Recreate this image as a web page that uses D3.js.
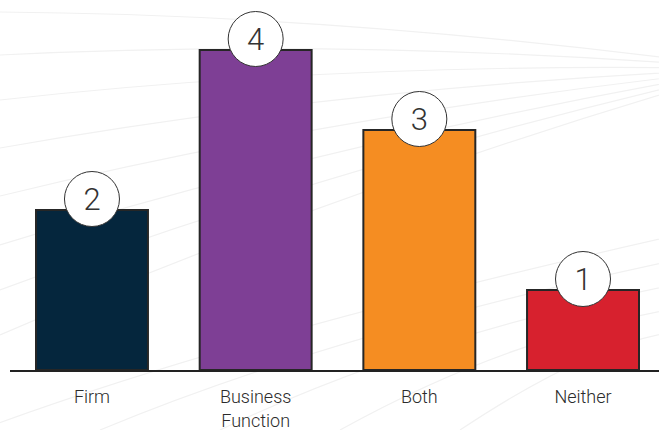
<!DOCTYPE html>
<html>
<head>
<meta charset="utf-8">
<script src="https://cdn.jsdelivr.net/npm/d3@7"></script>
<style>
  body { margin: 0; background: #fff; }
  text { font-family: Roboto, "Liberation Sans", sans-serif; }
</style>
</head>
<body>
<div id="chart"></div>
<script>
// data
var categories = ["Firm", "Business\nFunction", "Both", "Neither"];
var counts = [2, 4, 3, 1];
var barColors = ["#05263d", "#7e3f95", "#f58d22", "#d7212e"];

// chart size
var svgWidth = 659;
var svgHeight = 430;
var baseY = 370;

var svg = d3.select("#chart").append("svg")
  .attr("width", svgWidth)
  .attr("height", svgHeight);

// faint decorative curves in the background
var bg = svg.append("g").attr("fill", "none").attr("stroke", "#f1f1f1").attr("stroke-width", 1.2);
var fanEnds = [12, 55, 100, 148, 196, 245, 290, 335];
fanEnds.forEach(function(y0, i) {
  bg.append("path")
    .attr("d", "M0," + y0 + " Q330," + (y0 * 0.55 + 8) + " 700," + (62 + i * 3));
});
[0, 1, 2, 3, 4].forEach(function(i) {
  bg.append("path")
    .attr("d", "M" + (-20 + i * 120) + ",430 Q" + (250 + i * 90) + ",330 700," + (230 + i * 25));
});

var xScale = d3.scaleBand()
  .domain(categories)
  .range([36, 639])
  .paddingInner(0.316)
  .paddingOuter(0);

var yScale = d3.scaleLinear()
  .domain([0, 4])
  .range([baseY, 50]);

var chartGroup = svg.append("g");

// bars
chartGroup.selectAll("rect.bar")
  .data(counts)
  .enter()
  .append("rect")
  .attr("class", "bar")
  .attr("x", (d, i) => xScale(categories[i]))
  .attr("y", d => yScale(d))
  .attr("width", xScale.bandwidth())
  .attr("height", d => baseY - yScale(d))
  .attr("fill", (d, i) => barColors[i])
  .attr("stroke", "#262626")
  .attr("stroke-width", 2);

// baseline
svg.append("line")
  .attr("x1", 10).attr("x2", svgWidth)
  .attr("y1", baseY + 1).attr("y2", baseY + 1)
  .attr("stroke", "#222")
  .attr("stroke-width", 2);

// value bubbles
var bubbles = chartGroup.selectAll("g.bubble")
  .data(counts)
  .enter()
  .append("g")
  .attr("class", "bubble")
  .attr("transform", (d, i) => `translate(${xScale(categories[i]) + xScale.bandwidth() / 2}, ${yScale(d) - 11})`);

bubbles.append("circle")
  .attr("r", 27.5)
  .attr("fill", "#fff")
  .attr("stroke", "#333")
  .attr("stroke-width", 1);

bubbles.append("text")
  .text(d => d)
  .attr("text-anchor", "middle")
  .attr("dy", "0.36em")
  .style("font-size", "31px")
  .style("font-weight", 300)
  .attr("fill", "#333");

// category labels
var labels = svg.selectAll("text.cat")
  .data(categories)
  .enter()
  .append("text")
  .attr("class", "cat")
  .attr("text-anchor", "middle")
  .attr("x", d => xScale(d) + xScale.bandwidth() / 2)
  .attr("y", 403)
  .style("font-size", "18px")
  .style("font-weight", 300)
  .attr("fill", "#2b2b2b");

labels.selectAll("tspan")
  .data(d => d.split("\n"))
  .enter()
  .append("tspan")
  .attr("x", function() { return d3.select(this.parentNode).attr("x"); })
  .attr("dy", (d, i) => i === 0 ? 0 : 24)
  .text(d => d);
</script>
</body>
</html>
